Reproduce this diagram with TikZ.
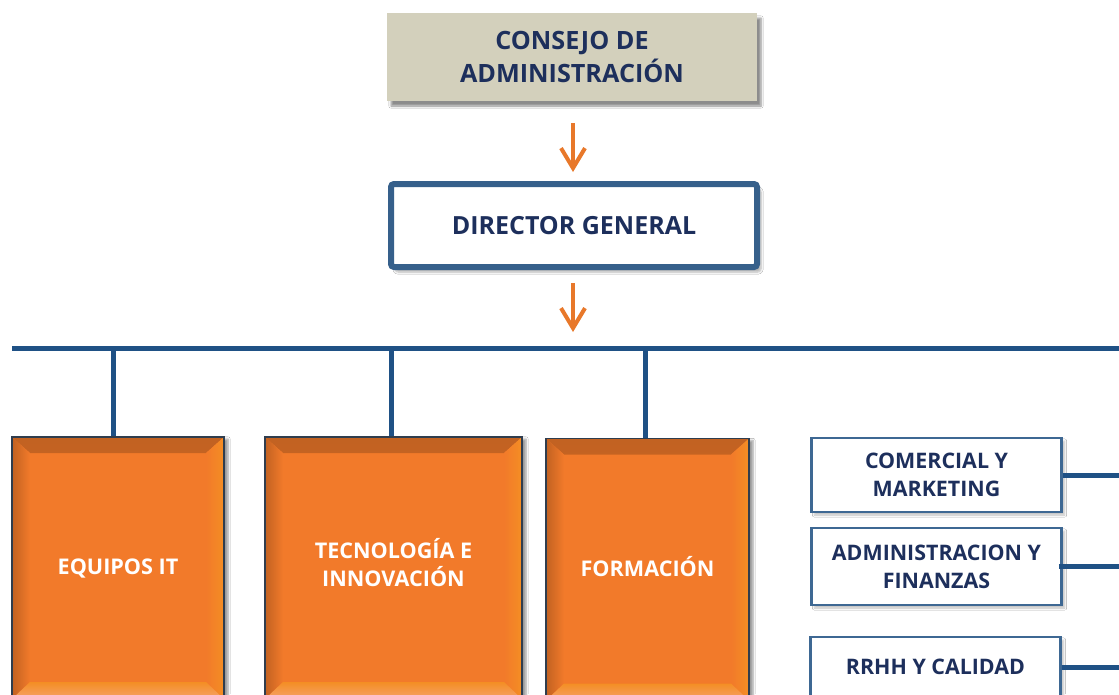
\documentclass[tikz,border=0pt]{standalone}
\usepackage{fontspec}
\setmainfont{Open Sans}
\usetikzlibrary{arrows.meta,shadows.blur}
\definecolor{navytext}{HTML}{1D2F5C}
\definecolor{beige}{HTML}{D3D0BC}
\definecolor{dirblue}{HTML}{36608B}
\definecolor{arrorange}{HTML}{E8782A}
\definecolor{barblue}{HTML}{1F5185}
\definecolor{boxorange}{HTML}{F27A2A}
\definecolor{rbblue}{HTML}{3E6893}
\definecolor{edgedark}{HTML}{2F3D4E}
\tikzset{
  headbox/.style={rectangle, fill=beige, minimum width=370pt, minimum height=88pt,
    align=center, text=navytext, font=\bfseries\fontsize{25.2}{33}\selectfont,
    blur shadow={shadow xshift=4pt, shadow yshift=-5pt, shadow blur steps=6, shadow opacity=45}},
  dirbox/.style={rectangle, draw=dirblue, line width=6pt, fill=white, rounded corners=3pt,
    minimum width=366pt, minimum height=83pt, align=center, text=navytext,
    font=\bfseries\fontsize{25}{28}\selectfont,
    blur shadow={shadow xshift=4pt, shadow yshift=-5pt, shadow blur steps=6, shadow opacity=30}},
  downarrow/.style={draw=arrorange, line width=4pt,
    -{Straight Barb[length=20pt, width=24pt, line width=4pt]}},
  barline/.style={draw=barblue, line width=5pt},
  deptbox/.style={rectangle, draw=edgedark, line width=1.5pt, fill=boxorange,
    align=center, text=white, font=\bfseries\fontsize{21.6}{28}\selectfont,
    blur shadow={shadow xshift=4pt, shadow yshift=-2pt, shadow blur steps=5, shadow opacity=40},
    path picture={
      \shade[top color=black!20!boxorange, bottom color=boxorange!95!black]
        (path picture bounding box.north west) -- (path picture bounding box.north east)
        -- ([xshift=-18pt,yshift=-16pt]path picture bounding box.north east)
        -- ([xshift=18pt,yshift=-16pt]path picture bounding box.north west) -- cycle;
      \shade[left color=black!20!boxorange, right color=boxorange]
        (path picture bounding box.north west)
        -- ([xshift=18pt,yshift=-16pt]path picture bounding box.north west)
        -- ([xshift=18pt,yshift=17pt]path picture bounding box.south west)
        -- (path picture bounding box.south west) -- cycle;
      \shade[left color=boxorange, right color=boxorange!85!yellow]
        (path picture bounding box.north east)
        -- ([xshift=-18pt,yshift=-16pt]path picture bounding box.north east)
        -- ([xshift=-18pt,yshift=17pt]path picture bounding box.south east)
        -- (path picture bounding box.south east) -- cycle;
      \shade[top color=boxorange!85!yellow, bottom color=boxorange!70!white]
        (path picture bounding box.south west)
        -- ([xshift=18pt,yshift=17pt]path picture bounding box.south west)
        -- ([xshift=-18pt,yshift=17pt]path picture bounding box.south east)
        -- (path picture bounding box.south east) -- cycle;
    }},
  sidebox/.style={rectangle, draw=rbblue, line width=2.5pt, fill=white,
    minimum width=250pt, align=center, text=navytext,
    font=\bfseries\fontsize{21.4}{28}\selectfont,
    blur shadow={shadow xshift=3pt, shadow yshift=-3pt, shadow blur steps=5, shadow opacity=25}}
}
\begin{document}
\begin{tikzpicture}[x=1pt, y=-1pt]
\useasboundingbox (0,0) rectangle (1119,694);
\clip (0,0) rectangle (1119,694);
\fill[white] (0,0) rectangle (1119,694);

\node[headbox] (consejo) at (572,57) {CONSEJO DE\\ADMINISTRACIÓN};
\node[dirbox] (director) at (574,225.5) {DIRECTOR GENERAL};

\draw[downarrow, shorten <=22pt, shorten >=9pt] (consejo.south -| 573,0) -- (director.north -| 573,0);

\coordinate (barL) at (12,348);
\coordinate (barR) at (1130,348);
\draw[downarrow, shorten <=13pt, shorten >=16pt] (director.south -| 573,0) -- (barR -| 573,0);
\draw[barline] (barL) -- (barR);

\node[deptbox, minimum width=212pt, minimum height=262pt] (equipos) at (118,568) {EQUIPOS IT};
\node[deptbox, minimum width=257pt, minimum height=262pt, text depth=12pt] (tecno) at (393.5,568) {TECNOLOGÍA E\\INNOVACIÓN};
\node[deptbox, minimum width=203pt, minimum height=262pt, text depth=7pt] (formacion) at (647.5,569.5) {FORMACIÓN};

\coordinate (b1) at (113,348);
\coordinate (b2) at (391,348);
\coordinate (b3) at (645,348);
\draw[barline] (b1) -- (b1 |- equipos.north);
\draw[barline] (b2) -- (b2 |- tecno.north);
\draw[barline] (b3) -- (b3 |- formacion.north);

\node[sidebox, minimum height=74pt] (comercial) at (936.5,475) {COMERCIAL Y\\MARKETING};
\node[sidebox, minimum height=77pt] (adminfin) at (936.5,566.5) {ADMINISTRACION Y\\FINANZAS};
\node[sidebox, minimum height=60pt] (rrhh) at (935.5,667) {RRHH Y CALIDAD};

\draw[barline] (comercial.east) -- (comercial.east -| barR);
\draw[barline] ([xshift=-4pt]adminfin.east) -- (adminfin.east -| barR);
\draw[barline] (rrhh.east) -- (rrhh.east -| barR);
\end{tikzpicture}
\end{document}
